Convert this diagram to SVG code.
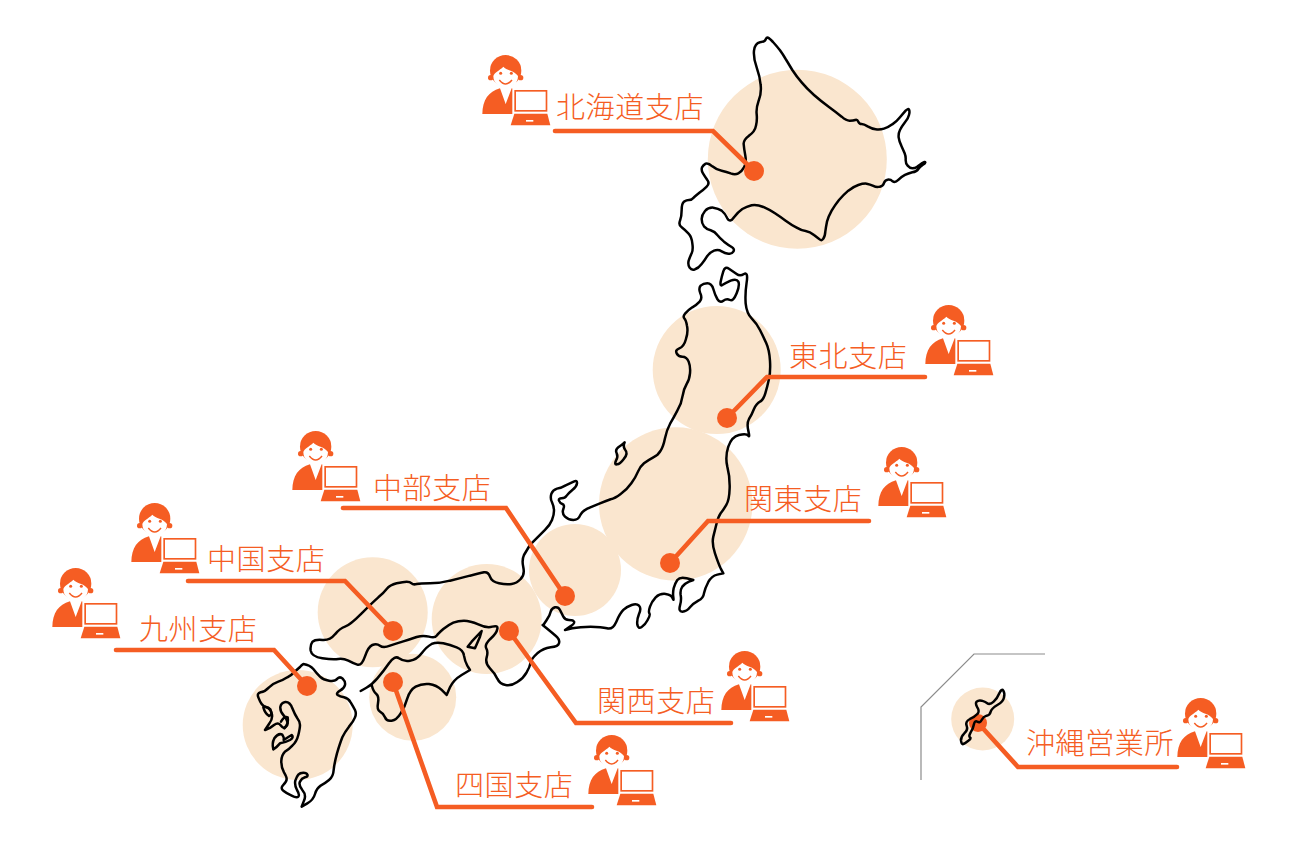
<svg xmlns="http://www.w3.org/2000/svg" xmlns:xlink="http://www.w3.org/1999/xlink" width="1300" height="850" viewBox="0 0 1300 850">
<style>
.bg{fill:#fae6cf}
.land{fill:none;stroke:#000;stroke-width:7.5;stroke-linejoin:round;stroke-linecap:round}
.conn{fill:none;stroke:#f55d23;stroke-width:4.6;stroke-linecap:round;stroke-linejoin:miter}
.dot{fill:#f55d23}
.frame{fill:none;stroke:#8c8c8c;stroke-width:1.2}
.lbl{font-family:"Noto Sans CJK JP","Noto Sans",sans-serif;font-weight:300;font-size:29px;letter-spacing:.6px;fill:#f55d23}
</style>
<defs>
<g id="staff">
<g transform="translate(470,40) scale(.3333)" fill="#f55d23">
<circle cx="107" cy="92" r="47"/>
<circle cx="62" cy="113" r="8"/><circle cx="152" cy="113" r="8"/>
<path d="M70 108C74 96 88 92 100 80C110 92 132 90 144 108C144 132 125 142 107 142C89 142 70 132 70 108Z" fill="#fff"/>
<circle cx="92" cy="100" r="4.5"/><circle cx="124" cy="100" r="4.5"/>
<path d="M88 120Q107 144 126 120" fill="none" stroke="#f55d23" stroke-width="4.5"/>
<path d="M37 222C38 180 55 155 90 145L107 192L125 145L150 150V222Z"/>
<rect x="127" y="144" width="112" height="84" fill="#fff"/>
<rect x="133" y="150" width="99" height="65"/>
<rect x="138" y="155" width="89" height="55" fill="#fff"/>
<path d="M133 221H232L241 256H122Z"/>
<rect x="168" y="240" width="22" height="5" fill="#fff"/>
</g>
</g>
</defs>
<g id="circles">
<circle class="bg" cx="797.3" cy="159.3" r="89.5"/>
<circle class="bg" cx="716.7" cy="370" r="64"/>
<circle class="bg" cx="675.7" cy="504" r="76.7"/>
<circle class="bg" cx="575" cy="570" r="46"/>
<circle class="bg" cx="486.7" cy="619" r="55"/>
<circle class="bg" cx="372.7" cy="612.3" r="55"/>
<circle class="bg" cx="412.7" cy="697.3" r="43.5"/>
<circle class="bg" cx="297.7" cy="725" r="55"/>
<circle class="bg" cx="982.7" cy="719" r="31.5"/>
</g>
<g id="map">
<g transform="translate(640,20) scale(.3333)">
<path class="land" d="M384 53Q388 55 399 66Q410 78 420 91Q430 105 437 117Q445 130 457 150Q470 170 485 187Q500 205 522 225Q545 245 567 261Q590 278 605 290Q620 303 630 302Q640 302 646 300Q652 298 655 305Q658 312 665 312Q672 312 683 319Q695 326 707 328Q720 330 732 326Q745 322 757 313Q770 305 780 292Q790 280 797 272Q805 264 807 269Q810 275 807 285Q805 295 795 307Q785 320 780 330Q775 340 776 352Q778 365 784 377Q790 390 794 400Q798 410 797 420Q797 430 803 437Q810 445 817 445Q825 445 832 440Q840 435 847 429Q855 424 856 427Q857 430 848 435Q840 440 835 447Q830 455 817 457Q805 460 795 465Q785 470 775 480Q765 490 758 484Q752 478 743 479Q735 480 732 489Q730 498 720 500Q710 503 700 498Q690 493 680 491Q670 490 655 495Q640 500 625 512Q610 525 597 540Q585 555 575 572Q565 590 561 605Q558 620 556 635Q555 650 550 656Q545 663 540 659Q535 655 522 645Q510 635 497 633Q485 632 470 623Q455 615 437 602Q420 590 405 580Q390 570 370 561Q350 553 335 556Q320 560 307 567Q295 575 282 592Q270 610 262 595Q255 580 245 572Q235 565 220 563Q205 562 195 573Q185 585 185 597Q185 610 192 619Q200 628 212 631Q225 635 232 645Q240 655 252 665Q265 675 275 681Q285 687 280 695Q275 703 265 701Q255 700 245 694Q235 688 222 692Q210 697 202 708Q195 720 185 732Q175 745 165 748Q155 752 149 743Q143 735 146 722Q150 710 155 700Q160 690 157 670Q155 650 145 640Q135 630 125 622Q115 615 120 602Q125 590 125 570Q125 550 132 545Q140 540 147 540Q155 540 162 532Q170 525 180 517Q190 510 200 500Q210 490 202 480Q195 470 189 460Q183 450 186 442Q190 435 197 431Q205 428 217 439Q230 450 245 452Q260 455 272 460Q285 465 295 460Q305 455 312 442Q320 430 316 407Q312 385 311 372Q310 360 327 347Q345 335 348 317Q352 300 350 282Q348 265 356 242Q365 220 362 195Q360 170 350 142Q340 115 342 92Q345 70 360 67Q375 65 377 58Q380 52 384 53Z"/>
</g>
<g transform="translate(530,260) scale(.3333)">
<path class="land" d="M0 855L15 840Q30 825 45 810Q60 795 66 780Q72 765 72 752Q72 740 66 727Q60 715 64 702Q68 690 81 686Q95 683 107 676Q120 670 131 665Q142 660 141 670Q140 680 127 690Q115 700 110 707Q105 715 95 715Q85 715 87 722Q90 730 97 732Q105 735 100 747Q95 760 105 770Q115 780 130 780Q145 780 150 767Q155 755 172 746Q190 738 210 730Q230 722 242 718Q255 715 272 702Q290 690 304 670Q318 650 324 635Q330 620 342 610Q355 600 370 592Q385 585 392 572Q400 560 405 535Q410 510 420 492Q430 475 442 452Q455 430 458 407Q462 385 470 372Q478 360 480 340Q482 320 476 305Q470 290 457 290Q445 290 440 280Q435 270 448 265Q462 260 468 237Q475 215 471 197Q468 180 463 175Q458 170 466 160Q475 150 487 142Q500 135 509 125Q518 115 511 100Q505 85 512 77Q520 70 532 70Q545 70 550 87Q555 105 562 117Q570 130 580 122Q590 115 600 120Q610 125 620 100Q630 75 625 65Q620 55 602 62Q585 70 577 75Q570 80 572 65Q575 50 580 34Q585 18 597 26Q610 35 620 42Q630 50 642 42Q655 35 650 67Q645 100 647 130Q650 160 665 175Q680 190 690 210Q700 230 709 250Q718 270 720 302Q722 335 717 357Q712 380 706 400Q700 420 690 425Q680 430 672 447Q665 465 657 477Q650 490 655 512Q660 535 655 527Q650 520 627 525Q605 530 595 560Q585 590 592 620Q600 650 599 685Q598 720 589 735Q580 750 572 760Q565 770 560 790Q555 810 550 830Q545 850 555 880Q565 910 572 925L580 940L562 944Q545 948 535 966Q525 985 522 1000Q520 1015 505 1022Q490 1030 480 1042Q470 1055 457 1055Q445 1055 450 1037Q455 1020 452 1005Q450 990 457 980Q465 970 477 965L490 960L470 955Q450 950 442 960Q435 970 431 985Q428 1000 430 1012Q432 1025 428 1015Q425 1005 407 1002Q390 1000 377 1012Q365 1025 360 1040Q355 1055 358 1060Q362 1065 353 1080Q345 1095 335 1101Q325 1108 322 1094Q320 1080 327 1062Q335 1045 327 1037Q320 1030 305 1035Q290 1040 280 1050Q270 1060 259 1085Q248 1110 231 1105Q215 1100 182 1100Q150 1100 127 1105L105 1110L120 1100Q135 1090 132 1085Q130 1080 117 1080Q105 1080 100 1070Q95 1060 90 1050Q85 1040 75 1042Q65 1045 62 1055Q60 1065 50 1080L40 1095"/>
<path class="land" d="M284 547Q278 560 286 570Q295 580 282 596Q270 612 261 613Q252 615 258 602Q265 590 260 580Q255 570 265 562Q275 555 284 547Z"/>
</g>
<g transform="translate(240,550) scale(.3333)">
<path class="land" d="M908 225Q945 255 952 262Q960 270 957 280Q955 290 932 292Q910 295 892 310Q875 325 872 337Q870 350 860 367Q850 385 832 396Q815 408 797 405Q780 403 772 386Q765 370 750 355Q735 340 740 322Q745 305 739 295Q733 285 751 267Q770 250 772 237Q775 225 757 230Q740 235 715 223Q690 212 672 212Q655 212 640 218Q625 225 610 237Q595 250 590 257Q585 265 567 260Q550 255 530 261Q510 268 490 274Q470 280 450 287Q430 295 420 287Q410 280 397 285Q385 290 375 319Q365 348 352 344Q340 340 325 332Q310 325 295 327Q280 330 247 325Q215 320 212 302Q210 285 217 276Q225 268 247 270Q270 272 285 253Q300 235 315 230Q330 225 365 190Q400 155 415 142Q430 130 440 117Q450 105 470 100Q490 95 500 95Q510 95 515 100Q520 105 530 102Q540 100 570 100Q600 100 630 92Q660 85 690 77Q720 70 732 67Q745 65 750 80Q755 95 777 100Q800 105 815 102Q830 100 842 87Q855 75 850 52Q845 30 852 15L870 -15"/>
<path class="land" d="M725 243L695 275L683 290L705 295L720 260Z"/>
<path class="land" d="M362 423L378 414Q395 405 412 385Q430 365 447 340Q465 315 477 325Q490 335 510 332Q530 330 545 310Q560 290 575 282Q590 275 610 280Q630 285 650 292Q670 300 672 317Q675 335 682 347L690 360L665 375Q640 390 630 412L620 435L605 420Q590 405 567 402Q545 400 527 410Q510 420 502 445Q495 470 482 490Q470 510 455 512Q440 515 435 502Q430 490 420 485Q410 480 414 460Q418 440 409 432Q400 425 395 405"/>
</g>
<g transform="translate(245,660) scale(.3333)">
<path class="land" d="M175 12Q195 15 205 27Q215 40 225 50Q235 60 252 62Q270 65 277 56Q285 48 293 56Q302 65 300 75Q298 85 285 92Q272 100 278 105Q285 110 297 112Q310 115 317 127Q325 140 330 150Q335 160 330 172Q325 185 312 200Q300 215 292 232Q285 250 276 280Q268 310 266 330Q265 350 252 360Q240 370 227 377Q215 385 210 402Q205 420 187 430L170 440L177 422Q185 405 172 390Q160 375 165 365Q170 355 180 352Q190 350 187 344Q185 338 175 338Q165 338 160 344Q155 350 151 362Q148 375 156 390Q165 405 160 410Q155 415 140 407Q125 400 115 392Q105 385 115 375Q125 365 125 357Q125 350 117 337Q108 320 109 302Q110 285 120 275Q130 270 142 257Q155 245 160 225Q165 205 165 195Q165 185 157 175Q150 165 142 145Q135 125 121 126Q108 128 106 141Q105 155 115 165Q125 175 127 185Q130 195 122 201Q115 207 107 196Q100 185 87 195Q75 205 67 207L60 210L72 192Q85 175 80 160Q75 145 65 142Q55 140 50 132Q45 125 40 112Q35 100 47 97Q60 95 72 82Q85 70 100 65Q115 60 127 52Q140 45 147 37Q155 30 165 21Q170 15 175 12Z"/>
<path class="land" d="M88 235Q100 218 112 224Q118 232 116 240Q128 232 140 225Q148 232 135 240Q120 248 105 250Q95 262 85 268Q80 250 88 235Z"/>
<path class="land" d="M55 142Q68 138 76 148Q84 165 72 168Q60 160 55 142Z"/>
<path class="land" d="M108 185Q118 168 128 172Q132 190 118 205"/>
</g>
<path class="frame" d="M1045 654H974L921 707V780"/>
</g>
<g id="connectors">
<path class="conn" d="M555 131H713L754 171"/>
<path class="conn" d="M925 377H767L727 418"/>
<path class="conn" d="M869 521H708L670 563"/>
<path class="conn" d="M343 508H506L565 596"/>
<path class="conn" d="M188 581H345L393 631"/>
<path class="conn" d="M116 650H274L307 686"/>
<path class="conn" d="M509 631L576 723H731"/>
<path class="conn" d="M393 682L437 807H592"/>
<path class="conn" d="M979 724L1018 767H1177"/>
</g>
<g id="n-hokkaido"><circle class="dot" cx="754" cy="171" r="10"/><use xlink:href="#staff" href="#staff"/><text class="lbl" x="556" y="118">北海道支店</text></g>
<g id="n-tohoku"><circle class="dot" cx="727" cy="418" r="10"/><use href="#staff" xlink:href="#staff" x="443" y="250"/><text class="lbl" x="789" y="367">東北支店</text></g>
<g id="n-kanto"><circle class="dot" cx="670" cy="563" r="10"/><use href="#staff" xlink:href="#staff" x="396" y="392"/><text class="lbl" x="744" y="510">関東支店</text></g>
<g id="n-chubu"><circle class="dot" cx="565" cy="596" r="10"/><use href="#staff" xlink:href="#staff" x="-190" y="376"/><text class="lbl" x="373" y="499">中部支店</text></g>
<g id="n-chugoku"><circle class="dot" cx="393" cy="631" r="10"/><use href="#staff" xlink:href="#staff" x="-351" y="448"/><text class="lbl" x="207" y="570">中国支店</text></g>
<g id="n-kyushu"><circle class="dot" cx="307" cy="686" r="10"/><use href="#staff" xlink:href="#staff" x="-430" y="513"/><text class="lbl" x="139" y="640">九州支店</text></g>
<g id="n-kansai"><circle class="dot" cx="509" cy="631" r="10"/><use href="#staff" xlink:href="#staff" x="239" y="596"/><text class="lbl" x="597" y="712">関西支店</text></g>
<g id="n-shikoku"><circle class="dot" cx="393" cy="682" r="10"/><use href="#staff" xlink:href="#staff" x="106" y="680"/><text class="lbl" x="455" y="796">四国支店</text></g>
<g id="n-okinawa"><circle class="dot" cx="978" cy="723" r="9"/><use href="#staff" xlink:href="#staff" x="695" y="643"/><text class="lbl" x="1026" y="754">沖縄営業所</text>
<g transform="translate(910,640) scale(.3333)"><path class="land" d="M280 152Q285 160 282 172Q280 185 262 195Q245 205 242 215Q240 225 230 227Q220 230 215 240Q210 250 202 245Q195 240 192 252Q190 265 182 277Q175 290 180 292Q185 295 175 302Q165 310 160 312Q155 315 153 302Q152 290 163 280Q175 270 170 257Q165 245 180 237Q195 230 202 222Q210 215 202 202Q195 190 200 185Q205 180 215 182Q225 185 232 190Q240 195 251 185Q262 175 268 160Q275 145 280 152Z"/></g></g>
</svg>
